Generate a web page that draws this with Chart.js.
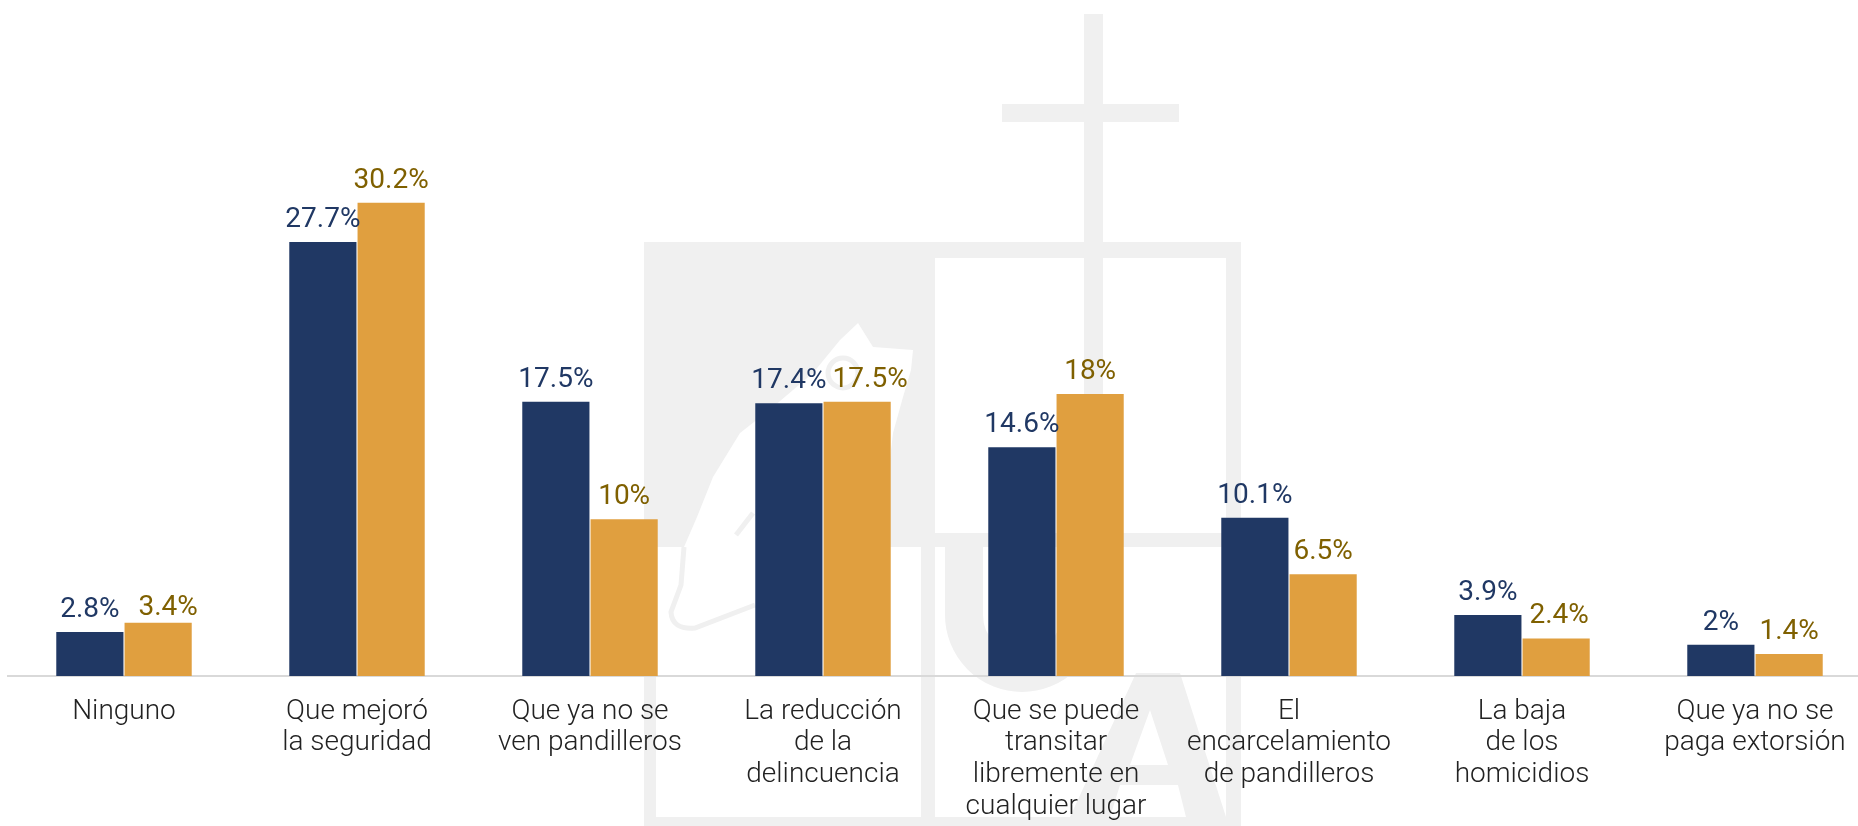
<!DOCTYPE html>
<html>
<head>
<meta charset="utf-8">
<title>Gráfico</title>
<script src="https://cdn.jsdelivr.net/npm/chart.js@4"></script>
<style>
    html, body { margin: 0; padding: 0; background: #fff; overflow: hidden; }
    canvas { display: block; }
</style>
</head>
<body>
<!-- the last category slot runs a little past the window edge, as in the original -->
<canvas id="myChart" width="1872" height="826"></canvas>
<script>
const categories = [
    ['Ninguno'],
    ['Que mejoró', 'la seguridad'],
    ['Que ya no se', 'ven pandilleros'],
    ['La reducción', 'de la', 'delincuencia'],
    ['Que se puede', 'transitar', 'libremente en', 'cualquier lugar'],
    ['El', 'encarcelamiento', 'de pandilleros'],
    ['La baja', 'de los', 'homicidios'],
    ['Que ya no se', 'paga extorsión']
];
const navyValues = [2.8, 27.7, 17.5, 17.4, 14.6, 10.1, 3.9, 2];
const goldValues = [3.4, 30.2, 10, 17.5, 18, 6.5, 2.4, 1.4];

const valueFont = '400 28px Roboto';
// a few labels sit off their bar in the original: [dx, dy]
const labelNudges = { '1:0': [10, 7], '1:3': [13, 0], '1:6': [3, 0] };

// faint logo behind the chart
const watermark = {
    id: 'watermark',
    beforeDraw(chart) {
        const c = chart.ctx;
        c.save();
        c.fillStyle = '#f0f0f0';
        c.fillRect(1084, 14, 19, 520);
        c.fillRect(1002, 104, 177, 18);
        c.fillRect(644, 242, 291, 305);
        c.fillRect(935, 242, 306, 16);
        c.fillRect(1226, 242, 15, 584);
        c.fillRect(935, 533, 306, 14);
        c.fillRect(644, 547, 12, 279);
        c.fillRect(656, 817, 585, 9);
        c.fillRect(921, 547, 14, 270);

        // flame
        c.fillStyle = '#fff';
        c.beginPath();
        c.moveTo(858, 323);
        c.lineTo(873, 347);
        c.lineTo(913, 350);
        c.lineTo(911, 370);
        c.lineTo(903, 397);
        c.lineTo(893, 433);
        c.lineTo(880, 547);
        c.lineTo(684, 547);
        c.lineTo(697, 517);
        c.lineTo(713, 477);
        c.lineTo(740, 433);
        c.lineTo(773, 407);
        c.lineTo(813, 373);
        c.lineTo(840, 340);
        c.closePath();
        c.fill();

        c.strokeStyle = '#f0f0f0';
        c.lineWidth = 5;
        c.beginPath();
        c.arc(843, 373, 15, 0, Math.PI * 2);
        c.stroke();
        c.beginPath();
        c.moveTo(736, 535);
        c.lineTo(753, 513);
        c.stroke();
        c.beginPath();
        c.moveTo(684, 547);
        c.lineTo(681, 585);
        c.lineTo(671, 612);
        c.quadraticCurveTo(672, 630, 695, 628);
        c.lineTo(755, 605);
        c.stroke();

        // U and A
        c.lineWidth = 38;
        c.beginPath();
        c.moveTo(964, 547);
        c.lineTo(964, 615);
        c.arc(1022, 615, 58, Math.PI, 0, true);
        c.lineTo(1080, 547);
        c.stroke();

        c.fillStyle = '#f0f0f0';
        c.beginPath();
        c.moveTo(1136, 673);
        c.lineTo(1180, 673);
        c.lineTo(1226, 817);
        c.lineTo(1186, 817);
        c.lineTo(1178, 785);
        c.lineTo(1120, 785);
        c.lineTo(1110, 817);
        c.lineTo(1070, 817);
        c.closePath();
        c.moveTo(1150, 710);
        c.lineTo(1130, 765);
        c.lineTo(1168, 765);
        c.closePath();
        c.fill('evenodd');
        c.restore();
    }
};

// value labels above the bars
const barLabels = {
    id: 'barLabels',
    afterDatasetsDraw(chart) {
        const c = chart.ctx;
        c.save();
        c.font = valueFont;
        c.textAlign = 'center';
        c.textBaseline = 'alphabetic';
        chart.data.datasets.forEach((ds, d) => {
            c.fillStyle = ds.labelColor;
            chart.getDatasetMeta(d).data.forEach((bar, i) => {
                const nudge = labelNudges[d + ':' + i] || [0, 0];
                c.fillText(ds.data[i] + '%', bar.x + nudge[0], bar.y - 15 + nudge[1]);
            });
        });
        c.restore();
    }
};

new Chart(document.getElementById('myChart'), {
    type: 'bar',
    data: {
        labels: categories,
        datasets: [{
            data: navyValues,
            backgroundColor: '#203864',
            labelColor: '#203864',
            categoryPercentage: 0.586,
            barPercentage: 0.984
        }, {
            data: goldValues,
            backgroundColor: '#e09f3f',
            labelColor: '#7f6000',
            categoryPercentage: 0.586,
            barPercentage: 0.984
        }]
    },
    options: {
        responsive: false,
        animation: false,
        layout: { padding: { left: 7.5, right: 0.5, top: 0, bottom: 0 } },
        plugins: { legend: { display: false }, tooltip: { enabled: false } },
        scales: {
            x: {
                afterFit(axis) { axis.height = 150; },
                grid: { display: false, drawTicks: false },
                border: { color: '#d9d9d9', width: 2 },
                ticks: {
                    color: '#222222',
                    font: { family: 'Roboto', size: 28, weight: '300', lineHeight: 1.13 },
                    padding: 20,
                    maxRotation: 0,
                    autoSkip: false
                }
            },
            y: {
                display: false,
                min: 0,
                max: 43.14
            }
        }
    },
    plugins: [watermark, barLabels]
});
</script>
</body>
</html>
